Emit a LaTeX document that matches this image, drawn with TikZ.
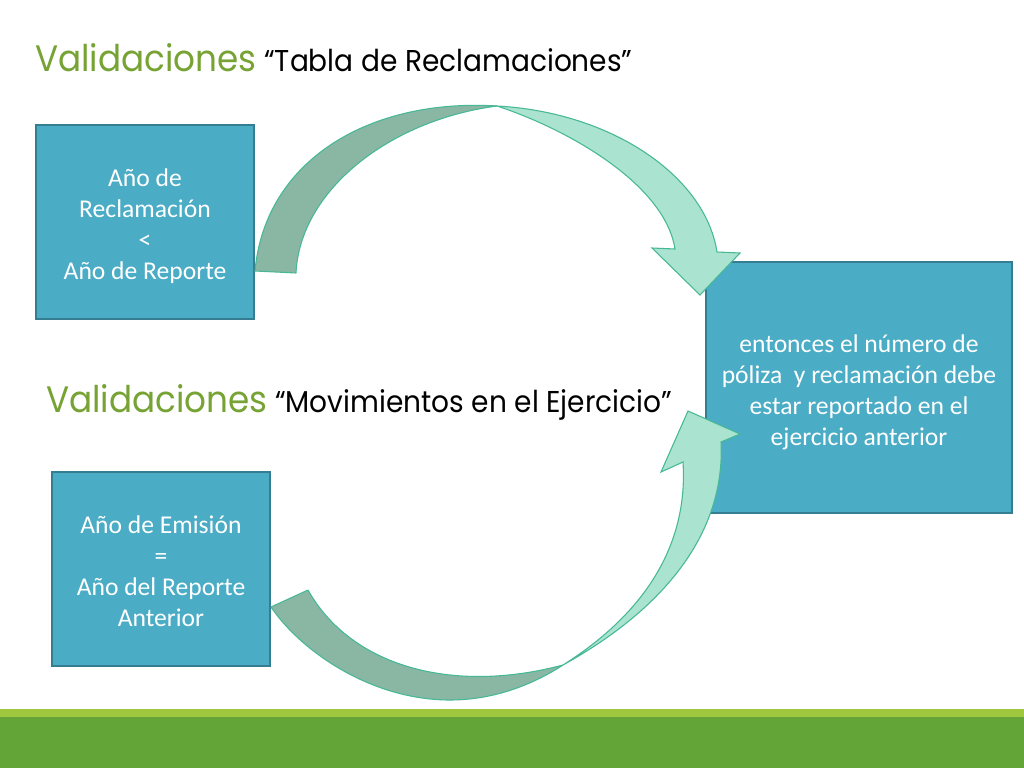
\documentclass[tikz,border=0pt]{standalone}
\usepackage{fontspec}
\setmainfont{Carlito}
\newfontfamily\titlefont{Poppins}[FakeStretch=0.93]
\definecolor{boxfill}{RGB}{75,172,198}
\definecolor{boxline}{RGB}{53,125,145}
\definecolor{titlegreen}{RGB}{119,163,53}
\definecolor{arrowline}{RGB}{70,184,150}
\definecolor{arrowdark}{RGB}{138,183,164}
\definecolor{arrowlight}{RGB}{170,227,207}
\definecolor{barlight}{RGB}{160,200,62}
\definecolor{bardark}{RGB}{99,165,55}
\begin{document}
\begin{tikzpicture}[x=0.75pt,y=-0.75pt,
  infobox/.style={draw=boxline,fill=boxfill,line width=1pt,inner sep=0pt},
  boxtext/.style={text=white,align=center,inner sep=0pt,font=\fontsize{19.2}{23.25}\selectfont},
  titletext/.style={anchor=base west,inner sep=0pt,font=\titlefont\fontsize{22.6}{24}\selectfont},
  bandback/.style={fill=arrowdark,draw=arrowline,line width=0.8pt,line join=round},
  bandfront/.style={fill=arrowlight,draw=arrowline,line width=0.8pt,line join=miter}]
\useasboundingbox (0,0) rectangle (1024,768);
\fill[white] (0,0) rectangle (1024,768);
\fill[barlight] (0,709) rectangle (1024,717);
\fill[bardark] (0,717) rectangle (1024,768);

% titles
\node[titletext] (t1) at (35,71) {{\fontsize{27.6}{30}\selectfont\color{titlegreen}Validaciones} “Tabla de Reclamaciones”};
\node[titletext] (t2) at (46,412) {{\fontsize{27.6}{30}\selectfont\color{titlegreen}Validaciones} “Movimientos en el Ejercicio”};

% boxes
\node[infobox,minimum width=163.5pt,minimum height=145.5pt] (b1) at (145,222) {};
\node[boxtext] (b1t) at (145,226) {Año de\\Reclamación\\<\\Año de Reporte};
\node[infobox,minimum width=163.5pt,minimum height=145.5pt] (b2) at (161,569) {};
\node[boxtext] (b2t) at (161,571) {Año de Emisión\\=\\Año del Reporte\\Anterior};
\node[infobox,minimum width=229.5pt,minimum height=188.25pt] (b3) at (859,387.5) {};
\node[boxtext] (b3t) at (859,392) {entonces el número de\\póliza\ \ y reclamación debe\\estar reportado en el\\ejercicio anterior};

% top curved arrow
\coordinate (ta) at (255,271);
\coordinate (tb) at (296,273);
\coordinate (tx) at (497,106);
\coordinate (tip1) at (700,295);
\draw[bandback] (ta) .. controls (265,160) and (370,98) .. (tx)
  .. controls (390,120) and (300,190) .. (tb) -- cycle;
\draw[bandfront] (tx) .. controls (610,112) and (705,175) .. (717,252)
  -- (740,253) -- (tip1) -- (652,248) -- (675,249)
  .. controls (665,185) and (570,130) .. (tx) -- cycle;

% bottom curved arrow
\coordinate (ba) at (271,607);
\coordinate (bb) at (308,590);
\coordinate (bx) at (563,665);
\coordinate (tip2) at (688,411);
\draw[bandback] (ba) .. controls (300,650) and (370,700) .. (450,700)
  .. controls (500,700) and (540,680) .. (bx)
  .. controls (450,695) and (350,665) .. (bb) -- cycle;
\draw[bandfront] (bx) .. controls (680,600) and (725,520) .. (721,442)
  -- (740,434) -- (tip2) -- (661,472) -- (683,462)
  .. controls (688,540) and (650,610) .. (bx) -- cycle;
\end{tikzpicture}
\end{document}
